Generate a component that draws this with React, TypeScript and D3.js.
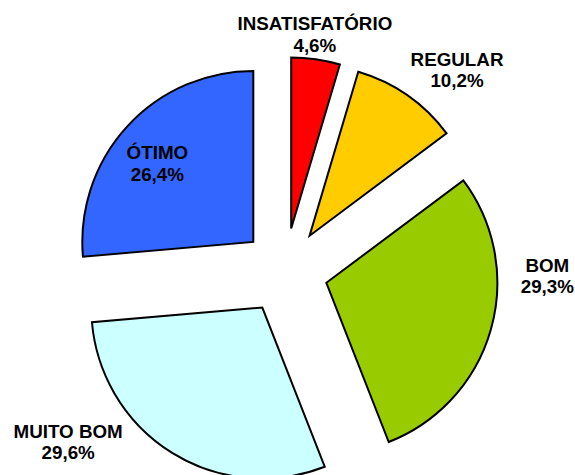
import React from "react";
import * as d3 from "d3";

const categories = ["INSATISFATÓRIO", "REGULAR", "BOM", "MUITO BOM", "ÓTIMO"];
const values = [4.6, 10.2, 29.3, 29.6, 26.4];
const valueLabels = ["4,6%", "10,2%", "29,3%", "29,6%", "26,4%"];
const colors = ["#FF0000", "#FFCC00", "#99CC00", "#CCFFFF", "#3366FF"];

// label placement relative to each exploded slice apex: [angle in degrees, distance px]
const labelAngles = [7.2, 42.8, 90, 234.0, 306.9];
const labelDistances = [189, 217, 221, 240, 120];

const W = 575;
const H = 475;
const CX = 285;
const CY = 271;
const R = 171;
const EXPLODE = 43;

export default function App() {
  const pie = d3
    .pie<number>()
    .sort(null)
    .value((d) => d)
    .startAngle(0)
    .endAngle(2 * Math.PI);
  const arcs = pie(values);
  const arc = d3.arc<d3.PieArcDatum<number>>().innerRadius(0).outerRadius(R);

  return (
    <svg
      width={W}
      height={H}
      style={{ position: "fixed", left: 0, top: 0, background: "#fff" }}
      fontFamily="'Liberation Sans', Arial, sans-serif"
    >
      <rect x={0} y={0} width={W} height={H} fill="#fff" />
      <g transform={`translate(${CX},${CY})`}>
        {arcs.map((a, i) => {
          const mid = (a.startAngle + a.endAngle) / 2;
          const ox = Math.sin(mid) * EXPLODE;
          const oy = -Math.cos(mid) * EXPLODE;
          const la = (labelAngles[i] * Math.PI) / 180;
          const lx = ox + Math.sin(la) * labelDistances[i];
          const ly = oy - Math.cos(la) * labelDistances[i];
          return (
            <g key={categories[i]}>
              <path
                d={arc(a) || ""}
                transform={`translate(${ox},${oy})`}
                fill={colors[i]}
                stroke="#000"
                strokeWidth={2}
                strokeLinejoin="miter"
              />
              <text
                x={lx}
                y={ly}
                textAnchor="middle"
                fontWeight="bold"
                fontSize={18.8}
                fill="#000"
              >
                <tspan x={lx} dy={-10.7}>
                  {categories[i]}
                </tspan>
                <tspan x={lx} dy={21.4}>
                  {valueLabels[i]}
                </tspan>
              </text>
            </g>
          );
        })}
      </g>
    </svg>
  );
}
